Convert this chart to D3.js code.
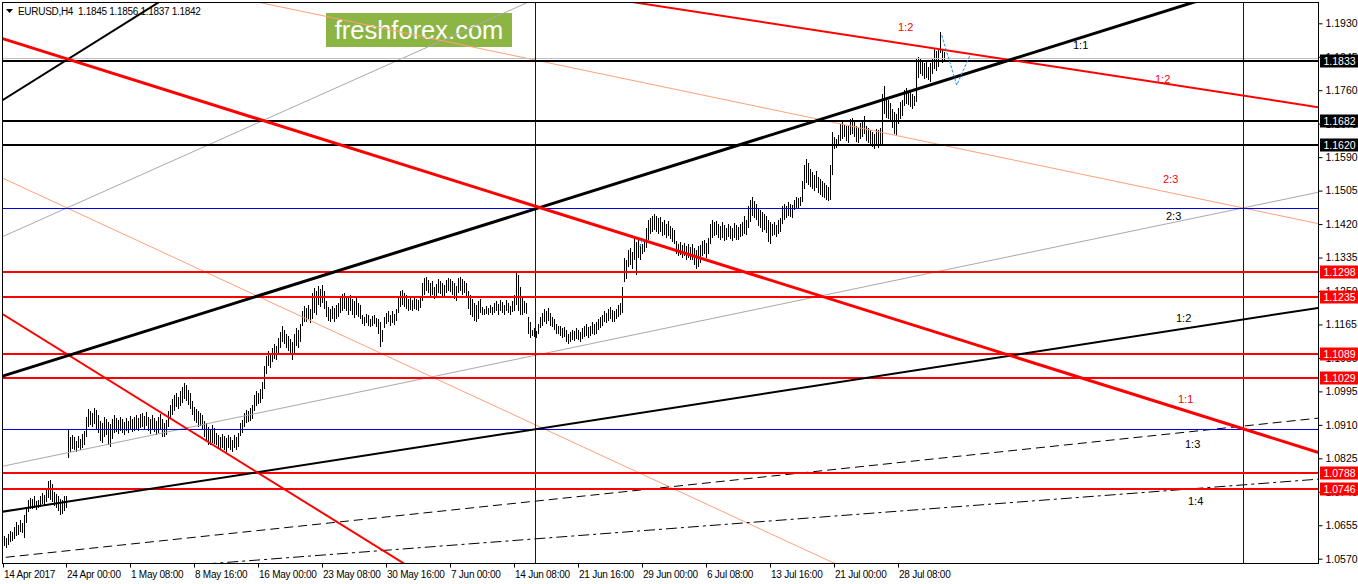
<!DOCTYPE html>
<html><head><meta charset="utf-8">
<script src="https://cdn.jsdelivr.net/npm/d3@7"></script>
<style>
body{margin:0;background:#fff}
svg{display:block}
text{font-family:"Liberation Sans",Arial,sans-serif}
</style>
</head><body>
<svg id="c" width="1358" height="584"></svg>
<script>
// ---------- DATA ----------
const symbolTitle = "EURUSD,H4  1.1845 1.1856 1.1837 1.1842";
const watermark = "freshforex.com";

const barHigh = [
1.0628,1.0622,1.0632,1.0640,1.0637,1.0650,1.0662,1.0655,1.0668,1.0660,
1.0680,1.0695,1.0718,1.0725,1.0722,1.0728,1.0716,1.0720,1.0730,1.0738,
1.0732,1.0748,1.0768,1.0770,1.0760,1.0740,1.0735,1.0730,1.0722,1.0718,
1.0730,1.0728,1.0900,1.0880,1.0885,1.0878,1.0870,1.0882,1.0875,1.0888,
1.0895,1.0930,1.0950,1.0945,1.0940,1.0953,1.0948,1.0935,1.0920,1.0915,
1.0930,1.0925,1.0918,1.0912,1.0925,1.0935,1.0928,1.0922,1.0930,1.0925,
1.0918,1.0927,1.0920,1.0932,1.0925,1.0930,1.0935,1.0928,1.0938,1.0940,
1.0932,1.0942,1.0930,1.0925,1.0935,1.0928,1.0920,1.0930,1.0938,1.0925,
1.0915,1.0922,1.0945,1.0960,1.0975,1.0985,1.0990,1.0980,1.0995,1.1005,
1.1016,1.1010,1.0998,1.0990,1.0970,1.0955,1.0950,1.0945,1.0940,1.0935,
1.0920,1.0915,1.0905,1.0900,1.0910,1.0902,1.0890,1.0885,1.0880,1.0888,
1.0882,1.0876,1.0885,1.0880,1.0872,1.0885,1.0878,1.0890,1.0915,1.0922,
1.0940,1.0948,1.0945,1.0952,1.0960,1.0985,1.0995,1.0990,1.1000,1.1020,
1.1060,1.1085,1.1098,1.1092,1.1105,1.1115,1.1110,1.1130,1.1145,1.1160,
1.1150,1.1142,1.1135,1.1128,1.1120,1.1140,1.1155,1.1150,1.1165,1.1200,
1.1212,1.1208,1.1215,1.1205,1.1245,1.1258,1.1250,1.1262,1.1255,1.1265,
1.1250,1.1225,1.1210,1.1205,1.1212,1.1208,1.1215,1.1220,1.1235,1.1242,
1.1245,1.1238,1.1232,1.1240,1.1230,1.1225,1.1232,1.1220,1.1215,1.1190,
1.1185,1.1192,1.1188,1.1180,1.1186,1.1190,1.1182,1.1178,1.1170,1.1150,
1.1185,1.1195,1.1200,1.1190,1.1198,1.1192,1.1205,1.1235,1.1250,1.1252,
1.1245,1.1240,1.1230,1.1232,1.1228,1.1235,1.1230,1.1226,1.1238,1.1270,
1.1282,1.1285,1.1278,1.1270,1.1275,1.1260,1.1268,1.1280,1.1276,1.1270,
1.1265,1.1278,1.1284,1.1280,1.1275,1.1270,1.1262,1.1282,1.1286,1.1280,
1.1275,1.1270,1.1250,1.1240,1.1230,1.1220,1.1215,1.1225,1.1230,1.1210,
1.1205,1.1212,1.1208,1.1215,1.1210,1.1220,1.1225,1.1218,1.1228,1.1222,
1.1215,1.1226,1.1220,1.1212,1.1225,1.1240,1.1295,1.1290,1.1260,1.1235,
1.1225,1.1220,1.1185,1.1170,1.1150,1.1155,1.1148,1.1165,1.1185,1.1195,
1.1205,1.1200,1.1208,1.1195,1.1185,1.1180,1.1165,1.1160,1.1162,1.1155,
1.1158,1.1150,1.1140,1.1145,1.1152,1.1148,1.1155,1.1150,1.1145,1.1155,
1.1160,1.1165,1.1158,1.1162,1.1170,1.1165,1.1172,1.1180,1.1185,1.1190,
1.1200,1.1195,1.1205,1.1210,1.1202,1.1198,1.1205,1.1215,1.1220,1.1260,
1.1333,1.1330,1.1355,1.1360,1.1350,1.1385,1.1375,1.1380,1.1370,1.1370,
1.1375,1.1410,1.1430,1.1435,1.1440,1.1445,1.1440,1.1435,1.1438,1.1425,
1.1430,1.1420,1.1428,1.1415,1.1410,1.1405,1.1378,1.1370,1.1375,1.1368,
1.1372,1.1365,1.1370,1.1362,1.1370,1.1360,1.1355,1.1365,1.1368,1.1378,
1.1380,1.1372,1.1385,1.1420,1.1430,1.1425,1.1428,1.1420,1.1415,1.1425,
1.1418,1.1410,1.1420,1.1415,1.1410,1.1422,1.1418,1.1412,1.1420,1.1425,
1.1440,1.1430,1.1465,1.1480,1.1488,1.1478,1.1470,1.1460,1.1455,1.1450,
1.1445,1.1440,1.1430,1.1425,1.1420,1.1425,1.1418,1.1430,1.1435,1.1465,
1.1470,1.1465,1.1475,1.1470,1.1468,1.1480,1.1488,1.1485,1.1490,1.1530,
1.1570,1.1585,1.1575,1.1560,1.1552,1.1545,1.1555,1.1540,1.1535,1.1530,
1.1525,1.1520,1.1515,1.1570,1.1655,1.1640,1.1635,1.1645,1.1675,1.1680,
1.1672,1.1668,1.1670,1.1688,1.1690,1.1680,1.1670,1.1665,1.1678,1.1685,
1.1695,1.1670,1.1665,1.1660,1.1655,1.1650,1.1662,1.1658,1.1665,1.1750,
1.1772,1.1740,1.1735,1.1728,1.1712,1.1705,1.1700,1.1715,1.1730,1.1735,
1.1760,1.1765,1.1758,1.1755,1.1750,1.1745,1.1840,1.1845,1.1842,1.1838,
1.1830,1.1835,1.1820,1.1828,1.1840,1.1865,1.1860,1.1862,1.1908,1.1865,
1.1856];

const barLow = [
1.0603,1.0598,1.0605,1.0612,1.0615,1.0620,1.0628,1.0630,1.0638,1.0635,
1.0622,1.0660,1.0688,1.0695,1.0697,1.0700,1.0694,1.0698,1.0702,1.0708,
1.0706,1.0715,1.0725,1.0720,1.0715,1.0705,1.0700,1.0690,1.0680,1.0684,
1.0690,1.0698,1.0825,1.0840,1.0848,1.0845,1.0842,1.0850,1.0845,1.0852,
1.0860,1.0880,1.0905,1.0910,1.0905,1.0912,1.0900,1.0890,1.0870,1.0865,
1.0880,1.0885,1.0860,1.0855,1.0875,1.0890,1.0892,1.0888,1.0895,1.0890,
1.0885,1.0895,1.0890,1.0898,1.0893,1.0895,1.0900,1.0894,1.0903,1.0905,
1.0898,1.0908,1.0895,1.0888,1.0900,1.0892,1.0885,1.0890,1.0898,1.0880,
1.0878,1.0885,1.0905,1.0925,1.0935,1.0945,1.0955,1.0950,1.0958,1.0965,
1.0975,1.0970,1.0960,1.0950,1.0935,1.0920,1.0915,1.0905,1.0908,1.0900,
1.0880,1.0870,1.0858,1.0860,1.0865,1.0862,1.0858,1.0850,1.0848,1.0852,
1.0845,1.0840,1.0850,1.0845,1.0840,1.0850,1.0846,1.0855,1.0882,1.0890,
1.0905,1.0915,1.0918,1.0920,1.0925,1.0945,1.0958,1.0962,1.0965,1.0975,
1.1000,1.1040,1.1060,1.1055,1.1070,1.1078,1.1075,1.1090,1.1105,1.1120,
1.1115,1.1105,1.1098,1.1090,1.1075,1.1090,1.1110,1.1105,1.1120,1.1160,
1.1170,1.1172,1.1178,1.1168,1.1180,1.1195,1.1190,1.1215,1.1210,1.1220,
1.1205,1.1185,1.1175,1.1172,1.1178,1.1170,1.1180,1.1185,1.1195,1.1200,
1.1205,1.1198,1.1190,1.1200,1.1188,1.1182,1.1190,1.1185,1.1180,1.1165,
1.1160,1.1168,1.1162,1.1158,1.1162,1.1165,1.1158,1.1140,1.1108,1.1120,
1.1155,1.1165,1.1170,1.1160,1.1168,1.1163,1.1175,1.1195,1.1210,1.1215,
1.1210,1.1205,1.1200,1.1202,1.1200,1.1205,1.1203,1.1200,1.1208,1.1225,
1.1240,1.1250,1.1245,1.1235,1.1240,1.1230,1.1235,1.1245,1.1242,1.1238,
1.1232,1.1245,1.1250,1.1248,1.1240,1.1230,1.1225,1.1245,1.1250,1.1240,
1.1245,1.1235,1.1205,1.1190,1.1185,1.1175,1.1170,1.1180,1.1195,1.1190,
1.1188,1.1192,1.1190,1.1193,1.1190,1.1195,1.1198,1.1190,1.1200,1.1195,
1.1190,1.1198,1.1193,1.1188,1.1196,1.1200,1.1215,1.1200,1.1190,1.1188,
1.1195,1.1192,1.1140,1.1130,1.1135,1.1132,1.1130,1.1140,1.1155,1.1160,
1.1170,1.1165,1.1175,1.1162,1.1158,1.1150,1.1142,1.1140,1.1135,1.1130,
1.1134,1.1120,1.1115,1.1120,1.1125,1.1122,1.1128,1.1125,1.1120,1.1128,
1.1132,1.1135,1.1130,1.1135,1.1140,1.1138,1.1142,1.1150,1.1155,1.1160,
1.1170,1.1168,1.1175,1.1178,1.1172,1.1170,1.1178,1.1185,1.1190,1.1195,
1.1272,1.1280,1.1310,1.1315,1.1305,1.1330,1.1290,1.1335,1.1330,1.1345,
1.1350,1.1360,1.1380,1.1395,1.1400,1.1405,1.1400,1.1395,1.1400,1.1390,
1.1392,1.1385,1.1390,1.1382,1.1375,1.1370,1.1345,1.1340,1.1342,1.1335,
1.1338,1.1330,1.1335,1.1328,1.1330,1.1315,1.1305,1.1312,1.1320,1.1340,
1.1345,1.1335,1.1345,1.1370,1.1385,1.1390,1.1392,1.1385,1.1380,1.1385,
1.1378,1.1380,1.1388,1.1383,1.1378,1.1385,1.1380,1.1379,1.1386,1.1390,
1.1395,1.1392,1.1410,1.1425,1.1440,1.1435,1.1430,1.1415,1.1410,1.1400,
1.1405,1.1398,1.1375,1.1370,1.1390,1.1392,1.1388,1.1395,1.1400,1.1420,
1.1430,1.1435,1.1440,1.1438,1.1435,1.1455,1.1460,1.1462,1.1465,1.1475,
1.1510,1.1525,1.1520,1.1515,1.1508,1.1505,1.1512,1.1500,1.1495,1.1490,
1.1485,1.1480,1.1478,1.1480,1.1545,1.1610,1.1612,1.1618,1.1630,1.1635,
1.1640,1.1632,1.1625,1.1645,1.1650,1.1640,1.1628,1.1625,1.1635,1.1642,
1.1648,1.1630,1.1625,1.1618,1.1615,1.1610,1.1620,1.1612,1.1620,1.1620,
1.1700,1.1690,1.1688,1.1685,1.1665,1.1650,1.1645,1.1675,1.1688,1.1695,
1.1720,1.1725,1.1722,1.1718,1.1712,1.1720,1.1730,1.1790,1.1800,1.1795,
1.1788,1.1790,1.1785,1.1780,1.1800,1.1815,1.1810,1.1818,1.1855,1.1830,
1.1837];

const priceTicks = [1.0570,1.0655,1.0740,1.0825,1.0910,1.0995,1.1080,1.1165,1.1250,
                    1.1335,1.1420,1.1505,1.1590,1.1675,1.1760,1.1845,1.1930];
const timeLabels = ["14 Apr 2017","24 Apr 00:00","1 May 08:00","8 May 16:00","16 May 00:00",
  "23 May 08:00","30 May 16:00","7 Jun 00:00","14 Jun 08:00","21 Jun 16:00","29 Jun 00:00",
  "6 Jul 08:00","13 Jul 16:00","21 Jul 00:00","28 Jul 08:00"];
const timeTickBars = [-1,31,63,95,127,159,191,223,255,287,319,351,383,415,447];

const blackLevels = [1.1833, 1.1682, 1.1620];
const redLevels = [1.1298, 1.1235, 1.1089, 1.1029, 1.0788, 1.0746];
const blueLevels = [1.1461, 1.0900];
const bidPrice = 1.1842;
const blueVerticalBars = [265.5, 619.5];

// trend lines: two anchors each, [barIndex, price]
const redThickLines = [[[0, 1.1890], [619.5, 1.0900]]];
const redLines = [[[318, 1.1981], [657, 1.1717]], [[0, 1.1189], [198, 1.0564]]];
const blackThickLines = [[[0, 1.1035], [503, 1.1837]]];
const blackLines = [[[0, 1.1737], [76, 1.1979]], [[0, 1.0690], [657, 1.1207]]];
const grayLines = [[[31.5, 1.1461], [129, 1.1682]], [[-0.5, 1.0805], [619.5, 1.1461]]];
const salmonLines = [[[31.5, 1.1461], [204.5, 1.1054]], [[129.5, 1.1981], [619.5, 1.1461]]];
const dashLines = [[[-2, 1.0572], [657, 1.0927]]];
const dashDotLines = [[[133, 1.0569], [657, 1.0772]]];
const zigzags = [[[468.85, 1.1900], [476.35, 1.1773], [483, 1.1849]],
                 [[318, 1.1362], [319.5, 1.1384]]];

const fanText  = ["1:2","1:1","1:2","2:3","2:3","1:2","1:1","1:3","1:4"];
const fanBar   = [447, 534.5, 575.5, 579.5, 581, 586, 587, 590.5, 592];
const fanPrice = [1.1910, 1.1865, 1.1778, 1.1524, 1.1430, 1.1171, 1.0965, 1.0851, 1.0706];
const fanIsRed = [true, false, true, true, false, false, true, false, false];

// ---------- DRAW ----------
const W = 1358, H = 584;
const L = 3, T = 3, R = 1318, B = 563;
const FONT = '"Liberation Sans",Arial,sans-serif';
const svg = d3.select("#c");
const xs = d3.scaleLinear().domain([0, 657]).range([4, 1318]);
const ys = d3.scaleLinear().domain([1.0570, 1.1930]).range([558.7, 23.3]);

svg.append("rect").attr("width", W).attr("height", H).attr("fill", "#fff");
svg.append("defs").append("clipPath").attr("id", "plot")
  .append("rect").attr("x", L).attr("y", T).attr("width", R - L).attr("height", B - T);

const plot = svg.append("g").attr("clip-path", "url(#plot)");

// watermark
plot.append("rect").attr("x", 326).attr("y", 13).attr("width", 186).attr("height", 34).attr("fill", "#8db543");
plot.append("text").attr("x", 419).attr("y", 39).attr("text-anchor", "middle")
  .attr("font-size", 25.5).attr("fill", "#fff").text(watermark);

// bars
const bars = barHigh.map((h, i) => ({i, h, l: barLow[i]}));
plot.append("g").selectAll("rect").data(bars).join("rect")
  .attr("x", d => Math.round(xs(d.i)))
  .attr("y", d => Math.round(ys(d.h)))
  .attr("width", 1)
  .attr("height", d => Math.max(1, Math.round(ys(d.l)) - Math.round(ys(d.h))))
  .attr("fill", "#000");

// helpers
function extend(a, b) {
  const k = (b[1] - a[1]) / (b[0] - a[0]);
  const j0 = -20, j1 = 700;
  return [[j0, a[1] + k * (j0 - a[0])], [j1, a[1] + k * (j1 - a[0])]];
}
const lineGen = d3.line().x(d => xs(d[0])).y(d => ys(d[1]));
function drawLines(arr, color, width, dash) {
  arr.forEach(ab => {
    const p = plot.append("path").attr("d", lineGen(extend(ab[0], ab[1])))
      .attr("fill", "none").attr("stroke", color).attr("stroke-width", width);
    if (dash) p.attr("stroke-dasharray", dash);
  });
}
function hLine(p, color, width) {
  const y = Math.round(ys(p)) + (width % 2 ? 0.5 : 0);
  plot.append("line").attr("x1", L).attr("x2", R).attr("y1", y).attr("y2", y)
    .attr("stroke", color).attr("stroke-width", width);
}

// thin lines first
drawLines(grayLines, "#a9a9a9", 1);
drawLines(salmonLines, "#ffa07a", 1);
drawLines(dashLines, "#000", 1, "9,5");
drawLines(dashDotLines, "#000", 1, "11,4,3,4");

hLine(bidPrice, "#c0c0c0", 1);
blueLevels.forEach(p => hLine(p, "#0000e0", 1));
blueVerticalBars.forEach(j => {
  const x = Math.round(xs(j)) + 0.5;
  plot.append("line").attr("x1", x).attr("x2", x).attr("y1", T).attr("y2", B)
    .attr("stroke", "#0000e0").attr("stroke-width", 1);
});

blackLevels.forEach(p => hLine(p, "#000", 2));
redLevels.forEach(p => hLine(p, "#ff0000", 2));

drawLines(blackLines, "#000", 2);
drawLines(redLines, "#ff0000", 2);
drawLines(blackThickLines, "#000", 3);
drawLines(redThickLines, "#ff0000", 3);

zigzags.forEach(z => {
  plot.append("path").attr("d", lineGen(z)).attr("fill", "none")
    .attr("stroke", "#1e90ff").attr("stroke-width", 1).attr("stroke-dasharray", "3,1.5");
});

// fan labels
plot.append("g").selectAll("text").data(fanText).join("text")
  .attr("x", (d, i) => xs(fanBar[i]))
  .attr("y", (d, i) => ys(fanPrice[i]))
  .attr("font-size", 11)
  .attr("fill", (d, i) => fanIsRed[i] ? "#ff0000" : "#000")
  .text(d => d);

// frame
svg.append("rect").attr("x", L - 0.5).attr("y", T - 0.5).attr("width", R - L + 1).attr("height", B - T + 1)
  .attr("fill", "none").attr("stroke", "#000").attr("stroke-width", 1);

// right price axis
const yAxis = d3.axisRight(ys).tickValues(priceTicks).tickFormat(d3.format(".4f")).tickSize(4).tickPadding(3);
const gy = svg.append("g").attr("transform", `translate(${R + 0.5},0)`).call(yAxis);
gy.select(".domain").remove();
gy.selectAll("text").attr("font-size", 10.5).attr("font-family", FONT).attr("fill", "#000");
gy.selectAll("line").attr("stroke", "#000");

// level label boxes
function levelBox(p, bg) {
  const y = Math.round(ys(p));
  const g = svg.append("g");
  g.append("rect").attr("x", 1320).attr("y", y - 6.5).attr("width", 38).attr("height", 13).attr("fill", bg);
  g.append("text").attr("x", 1323.5).attr("y", y + 4).attr("font-size", 10.5).attr("font-family", FONT)
    .attr("fill", "#fff").text(d3.format(".4f")(p));
}
blackLevels.forEach(p => levelBox(p, "#000"));
redLevels.forEach(p => levelBox(p, "#ff0000"));

// bottom time axis
const xAxis = d3.axisBottom(xs).tickValues(timeTickBars).tickFormat((d, i) => timeLabels[i]).tickSize(4).tickPadding(3);
const gx = svg.append("g").attr("transform", `translate(0,${B + 0.5})`).call(xAxis);
gx.select(".domain").remove();
gx.selectAll(".tick").attr("transform", d => `translate(${Math.max(L + 0.5, Math.round(xs(d)) + 0.5)},0)`);
gx.selectAll("text").attr("text-anchor", "start").attr("dx", 0.5).attr("font-size", 10)
  .attr("letter-spacing", -0.25).attr("font-family", FONT).attr("fill", "#000");
gx.selectAll("line").attr("stroke", "#000");

// title
svg.append("path").attr("d", "M6,9 L13,9 L9.5,13 Z").attr("fill", "#000");
svg.append("text").attr("x", 18).attr("y", 15).attr("font-size", 10).attr("letter-spacing", -0.3)
  .attr("fill", "#000").attr("xml:space", "preserve").style("white-space", "pre").text(symbolTitle);
</script>
</body></html>
